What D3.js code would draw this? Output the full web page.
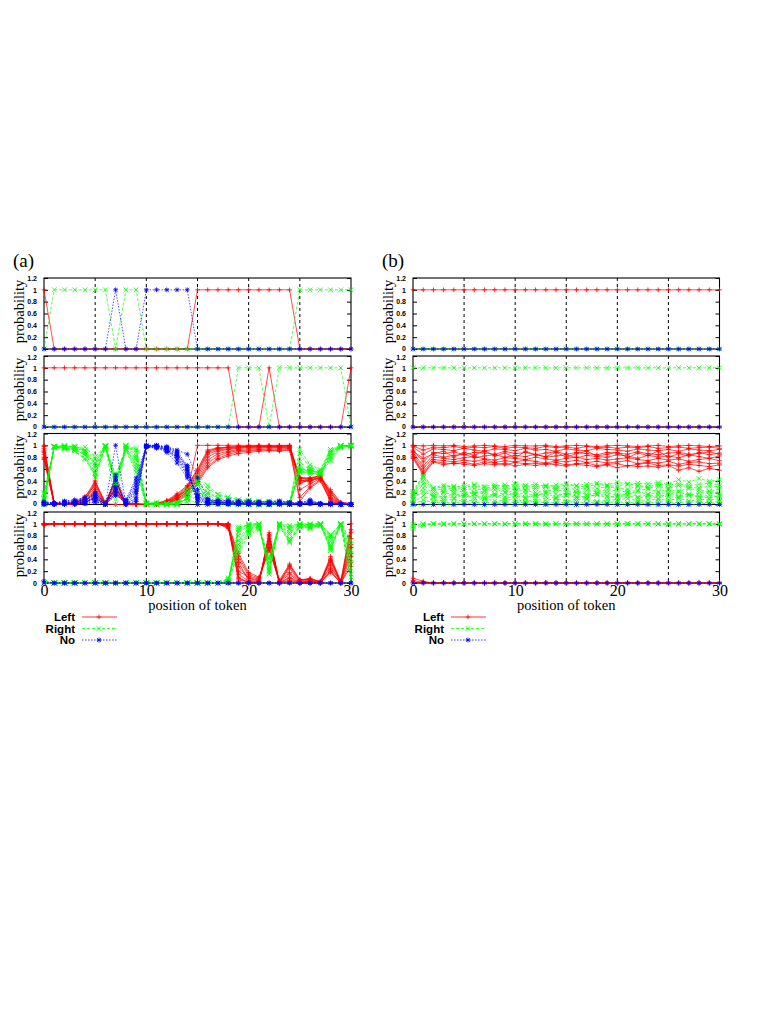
<!DOCTYPE html>
<html><head><meta charset="utf-8">
<script src="https://cdn.jsdelivr.net/npm/d3@7"></script>
<style>body{margin:0;background:#fff}svg{display:block}</style>
</head><body><svg id="c" width="761" height="1015"></svg>
<script>
// ---------------- DATA (probabilities in percent) ----------------
const tokenPositions = [0,1,2,3,4,5,6,7,8,9,10,11,12,13,14,15,16,17,18,19,20,21,22,23,24,25,26,27,28,29,30];
const yTickValues = [0,0.2,0.4,0.6,0.8,1,1.2];
const yTickLabels = ["0","0.2","0.4","0.6","0.8","1","1.2"];
const xTickValues = [0,10,20,30];
const xTickLabels = ["0","10","20","30"];
const gridPositions = [5,10,15,20,25];
const seriesNames = ["Left","Right","No"];
const chartLabels = ["(a)","(b)"];
const yAxisTitle = "probability";
const xAxisTitle = "position of token";

// (a) panel 1
const a1Left  = [100,0,0,0,0,0,0,0,0,0,0,0,0,0,0,100,100,100,100,100,100,100,100,100,100,0,0,0,0,0,0];
const a1Right = [0,100,100,100,100,100,100,0,100,100,0,0,0,0,0,0,0,0,0,0,0,0,0,0,0,100,100,100,100,100,100];
const a1No    = [0,0,0,0,0,0,0,100,0,0,100,100,100,100,100,0,0,0,0,0,0,0,0,0,0,0,0,0,0,0,0];
// (a) panel 2
const a2Left  = [100,100,100,100,100,100,100,100,100,100,100,100,100,100,100,100,100,100,100,0,0,0,100,0,0,0,0,0,0,0,100];
const a2Right = [0,0,0,0,0,0,0,0,0,0,0,0,0,0,0,0,0,0,0,100,100,100,0,100,100,100,100,100,100,100,0];
const a2No    = [0,0,0,0,0,0,0,0,0,0,0,0,0,0,0,0,0,0,0,0,0,0,0,0,0,0,0,0,0,0,0];
// (a) panel 3 (ensemble)
const a3Left = [
 [100,1,0,1,4,22,1,30,0,0,0,0,3,9,22,100,100,100,100,100,100,100,100,100,100,40,42,46,10,1,0],
 [95,2,1,2,8,35,2,42,1,0,0,1,5,14,28,55,88,94,96,97,98,98,99,98,99,44,44,48,18,2,1],
 [88,0,0,0,3,12,0,20,0,0,0,0,2,6,15,35,62,76,82,86,88,90,91,90,92,12,30,42,5,0,0],
 [80,1,2,3,10,28,1,36,2,1,0,1,4,11,25,48,80,90,93,95,96,97,97,96,97,38,40,45,22,3,1],
 [98,3,1,1,6,18,3,25,1,0,1,2,6,16,30,58,90,95,97,98,99,99,98,99,100,46,45,49,15,1,0],
 [76,0,0,2,12,40,0,45,0,1,0,0,2,8,18,40,70,82,88,91,92,93,94,93,95,25,35,44,8,0,0],
 [92,1,0,0,2,15,1,28,0,0,0,1,3,10,20,44,75,86,90,93,94,95,96,95,96,42,38,47,25,4,2],
 [85,2,1,4,14,32,2,40,1,1,0,2,7,18,32,60,92,96,97,98,98,99,99,99,99,35,43,50,12,1,0],
 [90,0,1,1,5,25,1,0,0,0,0,0,4,12,26,52,85,92,94,96,97,97,98,97,98,5,28,40,6,0,1],
 [78,1,0,3,9,38,4,22,2,0,0,1,5,15,24,38,65,78,85,89,90,92,92,91,94,45,41,46,20,2,0]
];
const a3Right = [
 [0,98,99,97,92,70,99,40,98,78,1,0,0,1,12,0,0,0,0,0,0,0,0,0,0,59,56,53,89,99,100],
 [4,98,97,97,89,53,98,38,98,95,2,0,0,0,12,35,8,3,2,1,1,1,1,1,1,56,52,52,82,98,99],
 [10,98,95,94,87,70,99,30,94,60,1,0,1,2,20,50,32,17,13,8,7,6,4,4,4,86,62,57,93,99,100],
 [17,98,95,93,84,62,99,48,95,69,2,1,1,2,20,40,17,6,4,3,1,1,0,2,1,61,57,53,77,97,99],
 [2,97,98,99,92,77,97,35,99,88,2,2,0,1,10,34,8,3,2,1,1,0,1,0,0,54,54,51,85,99,100],
 [20,97,94,90,76,50,99,40,92,54,0,0,0,0,4,15,20,12,5,4,2,2,2,2,2,72,59,54,90,99,100],
 [7,98,100,97,97,81,99,27,100,82,1,0,1,2,18,42,20,10,7,4,3,3,2,2,2,57,60,52,74,96,98],
 [10,96,95,91,78,53,98,35,94,64,1,0,1,0,10,35,6,3,2,1,1,0,1,0,1,64,54,49,87,99,100],
 [8,99,97,97,90,65,99,0,98,92,0,0,2,4,9,23,10,5,3,2,1,1,1,1,1,93,67,59,93,100,99],
 [19,97,97,93,84,46,95,50,94,75,3,4,2,5,26,44,27,17,11,8,7,5,6,6,4,55,57,54,80,98,100]
];
const a3No = [
 [0,1,1,2,4,8,0,30,2,22,99,100,97,90,66,0,0,0,0,0,0,0,0,0,0,1,2,1,1,0,0],
 [1,0,2,1,3,12,0,20,1,5,98,99,95,86,60,10,4,3,2,2,1,1,0,1,0,0,4,0,0,0,0],
 [2,2,5,6,10,18,1,50,6,40,99,98,92,75,50,15,6,7,5,6,5,4,5,6,4,2,8,1,2,1,0],
 [3,1,3,4,6,10,0,16,3,30,98,97,90,80,55,12,3,4,3,2,3,2,3,2,2,1,3,2,1,0,0],
 [0,0,1,0,2,5,0,40,0,12,97,96,88,70,45,8,2,2,1,1,0,1,1,1,0,0,1,0,0,0,0],
 [4,3,6,8,12,20,1,15,8,45,100,100,98,92,85,45,10,6,7,5,6,5,4,5,3,3,6,2,2,1,0],
 [1,1,0,3,1,4,0,45,0,18,99,99,96,88,62,14,5,4,3,3,3,2,2,3,2,1,2,1,1,0,0],
 [5,2,4,5,8,15,0,25,5,35,99,98,92,82,58,5,2,1,1,1,1,1,0,1,0,1,3,1,1,0,0],
 [2,1,2,2,5,10,0,100,2,8,100,100,94,84,65,25,5,3,3,2,2,2,1,2,1,2,5,1,1,0,0],
 [3,2,3,4,7,16,1,28,4,25,97,95,93,80,50,18,8,5,4,3,3,3,2,3,2,0,2,0,0,0,0]
];
// (a) panel 4 (ensemble)
const a4Left = [
 [97,100,100,100,100,100,100,100,100,100,100,100,100,100,100,100,100,100,95,5,2,1,80,0,10,1,2,0,40,1,100],
 [100,100,100,100,100,100,100,100,100,100,100,100,100,100,100,100,100,100,98,20,10,4,70,1,25,3,5,1,30,0,60],
 [100,100,100,100,100,100,100,100,100,100,100,100,100,100,100,100,100,100,99,45,15,8,60,2,30,5,8,2,45,3,90],
 [100,100,100,100,100,100,100,100,100,100,100,100,100,100,100,100,100,100,100,10,0,0,85,0,5,0,1,0,20,0,35],
 [100,100,100,100,100,100,100,100,100,100,100,100,100,100,100,100,100,100,92,35,5,2,75,3,18,2,3,1,38,2,75],
 [100,100,100,100,100,100,100,100,100,100,100,100,100,100,100,100,100,100,97,50,18,10,55,5,32,6,6,3,25,4,50],
 [100,100,100,100,100,100,100,100,100,100,100,100,100,100,100,100,100,100,96,28,8,3,65,1,15,1,4,1,42,1,85],
 [100,100,100,100,100,100,100,100,100,100,100,100,100,100,100,100,100,100,99,15,3,1,82,0,8,0,2,0,22,0,28],
 [100,100,100,100,100,100,100,100,100,100,100,100,100,100,100,100,100,100,94,40,12,6,58,2,28,4,7,2,35,2,65],
 [100,100,100,100,100,100,100,100,100,100,100,100,100,100,100,100,100,100,100,8,1,0,78,0,3,0,0,0,18,0,45]
];
const a4Right = [
 [0,0,0,0,0,0,0,0,0,0,0,0,0,0,0,0,0,0,5,95,98,99,20,100,90,99,98,100,60,99,0],
 [0,0,0,0,0,0,0,0,0,0,0,0,0,0,0,0,0,0,2,80,90,96,30,99,75,97,95,99,70,100,40],
 [0,0,0,0,0,0,0,0,0,0,0,0,0,0,0,0,0,0,1,55,85,92,40,98,70,95,92,98,55,97,10],
 [0,0,0,0,0,0,0,0,0,0,0,0,0,0,0,0,0,0,0,90,100,100,15,100,95,100,99,100,80,100,65],
 [0,0,0,0,0,0,0,0,0,0,0,0,0,0,0,0,0,0,8,65,95,98,25,97,82,98,97,99,62,98,25],
 [0,0,0,0,0,0,0,0,0,0,0,0,0,0,0,0,0,0,3,50,82,90,45,95,68,94,94,97,75,96,50],
 [0,0,0,0,0,0,0,0,0,0,0,0,0,0,0,0,0,0,4,72,92,97,35,99,85,99,96,99,58,99,15],
 [0,0,0,0,0,0,0,0,0,0,0,0,0,0,0,0,0,0,1,85,97,99,18,100,92,100,98,100,78,100,72],
 [0,0,0,0,0,0,0,0,0,0,0,0,0,0,0,0,0,0,6,60,88,94,42,98,72,96,93,98,65,98,35],
 [0,0,0,0,0,0,0,0,0,0,0,0,0,0,0,0,0,0,0,92,99,100,22,100,97,100,100,100,82,100,55]
];
const a4No = [
 [3,0,0,0,0,0,0,0,0,0,0,0,0,0,0,0,0,0,0,0,0,0,0,0,0,0,0,0,0,0,0],
 [0,0,0,0,0,0,0,0,0,0,0,0,0,0,0,0,0,0,0,0,0,0,0,0,0,0,0,0,0,0,0]
];
// (b) panel 1
const b1Left  = [100,100,100,100,100,100,100,100,100,100,100,100,100,100,100,100,100,100,100,100,100,100,100,100,100,100,100,100,100,100,100];
const b1Right = [0,0,0,0,0,0,0,0,0,0,0,0,0,0,0,0,0,0,0,0,0,0,0,0,0,0,0,0,0,0,0];
const b1No    = [0,0,0,0,0,0,0,0,0,0,0,0,0,0,0,0,0,0,0,0,0,0,0,0,0,0,0,0,0,0,0];
// (b) panel 2
const b2Left  = [0,0,0,0,0,0,0,0,0,0,0,0,0,0,0,0,0,0,0,0,0,0,0,0,0,0,0,0,0,0,0];
const b2Right = [100,100,100,100,100,100,100,100,100,100,100,100,100,100,100,100,100,100,100,100,100,100,100,100,100,100,100,100,100,100,100];
const b2No    = [0,0,0,0,0,0,0,0,0,0,0,0,0,0,0,0,0,0,0,0,0,0,0,0,0,0,0,0,0,0,0];
// (b) panel 3 (ensemble)
const b3Left = [
 [100,99,100,99,100,98,99,100,99,98,100,99,99,100,98,99,100,99,98,99,100,99,98,99,100,98,99,100,99,98,99],
 [97,85,94,93,91,95,92,90,94,93,91,95,92,93,90,94,92,91,95,93,92,90,94,92,91,93,90,94,92,91,93],
 [92,72,88,86,89,84,88,87,85,90,86,88,84,87,89,85,88,86,84,88,87,85,89,86,84,87,88,85,86,89,85],
 [88,65,84,80,83,85,79,82,84,80,83,81,85,80,82,84,79,83,81,80,84,82,78,83,80,82,79,84,81,78,82],
 [85,60,80,78,76,79,81,77,75,79,78,76,80,77,75,78,80,76,78,75,77,79,76,74,78,75,77,73,76,78,74],
 [82,55,76,74,72,75,73,76,71,74,72,75,73,70,74,72,75,71,73,70,72,74,69,72,70,73,68,71,72,69,70],
 [80,52,73,70,69,71,68,72,70,67,71,69,70,68,71,67,69,70,66,68,69,65,68,70,66,67,65,68,66,64,67],
 [99,92,97,96,98,95,97,96,98,95,97,96,95,98,96,97,95,98,96,97,95,97,96,98,95,96,97,95,96,97,95],
 [78,50,72,67,70,68,66,69,67,70,65,68,66,69,67,65,68,66,64,67,62,66,64,65,63,66,58,62,56,61,58],
 [90,78,86,90,80,88,83,91,82,87,79,90,84,81,88,80,86,90,82,85,88,79,87,83,90,80,86,82,88,84,87]
];
const b3Right = [
 [0,1,0,1,0,2,1,0,1,2,0,1,1,0,2,1,0,1,2,1,0,1,2,1,0,2,1,0,1,2,1],
 [3,15,6,7,9,5,8,10,6,7,9,5,8,7,10,6,8,9,5,7,8,10,6,8,9,7,10,6,8,9,7],
 [8,28,12,14,11,16,12,13,15,10,14,12,16,13,11,15,12,14,16,12,13,15,11,14,16,13,12,15,14,11,15],
 [12,35,16,20,17,15,21,18,16,20,17,19,15,20,18,16,21,17,19,20,16,18,22,17,20,18,21,16,19,22,18],
 [15,40,20,22,24,21,19,23,25,21,22,24,20,23,25,22,20,24,22,25,23,21,24,26,22,25,23,27,24,22,26],
 [18,45,24,26,28,25,27,24,29,26,28,25,27,30,26,28,25,29,27,30,28,26,31,28,30,27,32,29,28,31,30],
 [20,48,27,30,31,29,32,28,30,33,29,31,30,32,29,33,31,30,34,32,31,35,32,30,34,33,35,32,34,36,33],
 [1,8,3,4,2,5,3,4,2,5,3,4,5,2,4,3,5,2,4,3,5,3,4,2,5,4,3,5,4,3,5],
 [22,50,28,33,30,32,34,31,33,30,35,32,34,31,33,35,32,34,36,33,38,34,36,35,37,34,42,38,44,39,42],
 [10,22,14,10,20,12,17,9,18,13,21,10,16,19,12,20,14,10,18,15,12,21,13,17,10,20,14,18,12,16,13]
];
const b3No = [
 [0,0,0,0,0,0,0,0,0,0,0,0,0,0,0,0,0,0,0,0,0,0,0,0,0,0,0,0,0,0,0]
];
// (b) panel 4 (ensemble)
const b4Left = [
 [8,3,0,0,0,0,0,0,0,0,0,0,0,0,0,0,0,0,0,0,0,0,0,0,0,0,0,0,0,0,0],
 [4,1,0,1,0,0,0,0,0,0,0,0,0,1,0,0,0,0,0,0,0,0,0,0,0,0,0,0,0,0,0],
 [1,0,0,0,0,0,0,0,0,0,0,0,0,0,0,0,0,0,0,0,0,0,0,0,0,1,0,0,0,0,0]
];
const b4Right = [
 [92,97,100,100,100,100,100,100,100,100,100,100,100,100,100,100,100,100,100,100,100,100,100,100,100,100,100,100,100,100,100],
 [96,99,100,99,100,100,100,100,100,100,100,100,100,99,100,100,100,100,100,100,100,100,100,100,100,99,100,100,100,100,100],
 [99,100,100,100,100,100,100,100,100,100,100,100,100,100,100,100,100,100,100,100,100,100,100,100,100,100,100,100,100,100,99]
];
const b4No = [
 [0,0,0,0,0,0,0,0,0,0,0,0,0,0,0,0,0,0,0,0,0,0,0,0,0,0,0,0,0,0,0]
];

// ---------------- LAYOUT ----------------
const panelTops = [278, 356, 433.5, 512];
const panelH = 71;
const charts = [
  {label: chartLabels[0], x0: 44, x1: 351, panels: [
    [[a1Left],[a1Right],[a1No]], [[a2Left],[a2Right],[a2No]], [a3Left,a3Right,a3No], [a4Left,a4Right,a4No]]},
  {label: chartLabels[1], x0: 413, x1: 719.5, panels: [
    [[b1Left],[b1Right],[b1No]], [[b2Left],[b2Right],[b2No]], [b3Left,b3Right,b3No], [b4Left,b4Right,b4No]]}
];
const styles = [
  {color: "#ff0000", dash: null, sym: "plus"},
  {color: "#00ff00", dash: "3,2", sym: "cross"},
  {color: "#0000ff", dash: "1.5,1.5", sym: "star"}
];
const s = 2.4;
const symPaths = {
  plus: `M${-s},0H${s}M0,${-s}V${s}`,
  cross: `M${-s},${-s}L${s},${s}M${-s},${s}L${s},${-s}`,
  star: `M${-s},0H${s}M0,${-s}V${s}M${-s*0.75},${-s*0.75}L${s*0.75},${s*0.75}M${-s*0.75},${s*0.75}L${s*0.75},${-s*0.75}`
};

const svg = d3.select("#c");
const serif = "'Liberation Serif','Times New Roman',serif";
const sans = "'Liberation Sans',Arial,Helvetica,sans-serif";

charts.forEach(ch => {
  const g = svg.append("g");
  const x = d3.scaleLinear().domain([0, 30]).range([ch.x0, ch.x1]);

  g.append("text").attr("x", ch.x0 - 31).attr("y", 267)
    .attr("font-family", serif).attr("font-size", 19).text(ch.label);

  ch.panels.forEach((series, pi) => {
    const top = panelTops[pi];
    const y = d3.scaleLinear().domain([0, 1.2]).range([top + panelH, top]);
    const pg = g.append("g");

    // grid
    pg.selectAll("line.grid").data(gridPositions).join("line")
      .attr("x1", d => x(d)).attr("x2", d => x(d))
      .attr("y1", top).attr("y2", top + panelH)
      .attr("stroke", "#000").attr("stroke-width", 1).attr("stroke-dasharray", "3,3");

    // axes (ticks inward)
    const yl = d3.axisLeft(y).tickValues(yTickValues).tickSize(-4)
      .tickFormat((d, i) => yTickLabels[i]).tickPadding(7);
    const ya = pg.append("g").attr("transform", `translate(${ch.x0},0)`).call(yl);
    ya.select(".domain").remove();
    ya.selectAll("text").attr("font-family", sans).attr("font-weight", "bold")
      .attr("font-size", 7).attr("fill", "#000")
      .attr("y", d => (d === 0 && pi < panelTops.length - 1) ? -1.2 : (d === 1.2 && pi > 0 ? 1.2 : 0));
    const yr = d3.axisRight(y).tickValues(yTickValues).tickSize(-4).tickFormat("");
    pg.append("g").attr("transform", `translate(${ch.x1},0)`).call(yr).select(".domain").remove();

    pg.append("rect").attr("x", ch.x0).attr("y", top)
      .attr("width", ch.x1 - ch.x0).attr("height", panelH)
      .attr("fill", "none").attr("stroke", "#000").attr("stroke-width", 1.1);

    // y title
    pg.append("text")
      .attr("transform", `translate(${ch.x0 - 20},${top + panelH / 2 - 2}) rotate(-90)`)
      .attr("text-anchor", "middle").attr("font-family", serif).attr("font-size", 14.5)
      .text(yAxisTitle);

    // data
    const line = d3.line().x((d, i) => x(tokenPositions[i])).y(d => y(d / 100));
    series.forEach((lines, si) => {
      const st = styles[si];
      const sg = pg.append("g");
      lines.forEach(vals => {
        sg.append("path").attr("d", line(vals)).attr("fill", "none")
          .attr("stroke", st.color).attr("stroke-width", 0.7)
          .attr("stroke-dasharray", st.dash);
        sg.selectAll(null).data(vals).join("path")
          .attr("transform", (d, i) => `translate(${x(tokenPositions[i])},${y(d / 100)})`)
          .attr("d", symPaths[st.sym]).attr("fill", "none")
          .attr("stroke", st.color).attr("stroke-width", 0.8);
      });
    });

    if (pi === panelTops.length - 1) {
      const xa = d3.axisBottom(x).tickValues(xTickValues).tickSize(0)
        .tickFormat((d, i) => xTickLabels[i]).tickPadding(2);
      const xg = pg.append("g").attr("transform", `translate(0,${top + panelH})`).call(xa);
      xg.select(".domain").remove();
      xg.selectAll("text").attr("font-family", serif).attr("font-size", 16).attr("fill", "#000");
      pg.append("text").attr("x", (ch.x0 + ch.x1) / 2).attr("y", 610)
        .attr("text-anchor", "middle").attr("font-family", serif).attr("font-size", 14.5)
        .text(xAxisTitle);
    }
  });

  // legend
  const legCenters = [617, 628.5, 640];
  seriesNames.forEach((name, si) => {
    const st = styles[si];
    const cy = legCenters[si];
    g.append("text").attr("x", ch.x0 + 31).attr("y", cy + 4)
      .attr("text-anchor", "end").attr("font-family", sans).attr("font-weight", "bold")
      .attr("font-size", 11.5).text(name);
    g.append("line").attr("x1", ch.x0 + 38).attr("x2", ch.x0 + 73)
      .attr("y1", cy).attr("y2", cy).attr("stroke", st.color).attr("stroke-width", 0.8)
      .attr("stroke-dasharray", st.dash);
    g.append("path").attr("transform", `translate(${ch.x0 + 55},${cy})`)
      .attr("d", symPaths[st.sym]).attr("fill", "none")
      .attr("stroke", st.color).attr("stroke-width", 0.8);
  });
});
</script>
</body></html>
